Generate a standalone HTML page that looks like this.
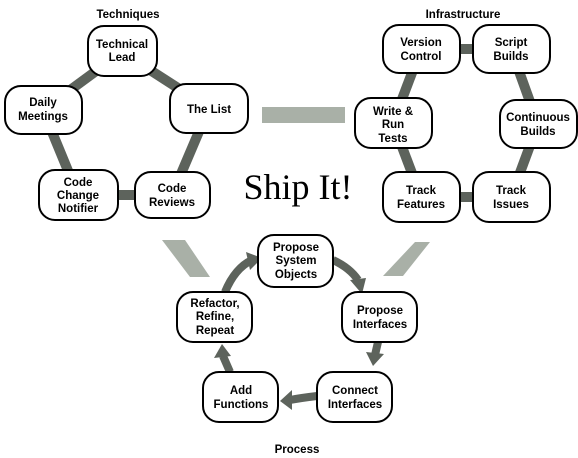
<!DOCTYPE html>
<html><head><meta charset="utf-8"><style>
html,body{margin:0;padding:0;background:#fff;}
svg{display:block;}
text{font-family:"Liberation Sans",sans-serif;font-weight:bold;font-size:11.5px;fill:#000;text-anchor:middle;}
.n{fill:#fff;stroke:#000;stroke-width:2;}
.c{stroke:#5d635c;stroke-width:10;}
.a{fill:none;stroke:#5d635c;stroke-width:8;}
</style></head><body>
<svg width="578" height="458" viewBox="0 0 578 458">
<rect x="262" y="107" width="83" height="16" fill="#a9b0a7"/>
<polygon points="162,240 185,240 210,277 190,277" fill="#a9b0a7"/>
<polygon points="415,242 430,242 403,276 383,276" fill="#a9b0a7"/>

<line class="c" x1="122" y1="52" x2="209" y2="108"/>
<line class="c" x1="209" y1="108" x2="172" y2="195"/>
<line class="c" x1="172" y1="195" x2="78" y2="195"/>
<line class="c" x1="78" y1="195" x2="43" y2="110"/>
<line class="c" x1="43" y1="110" x2="122" y2="52"/>
<line class="c" x1="421" y1="49" x2="511" y2="49"/>
<line class="c" x1="511" y1="49" x2="538" y2="124"/>
<line class="c" x1="538" y1="124" x2="511" y2="197"/>
<line class="c" x1="511" y1="197" x2="421" y2="197"/>
<line class="c" x1="421" y1="197" x2="393" y2="123"/>
<line class="c" x1="393" y1="123" x2="421" y2="49"/>

<path class="a" d="M225,292 Q235,268 252,260"/>
<polygon points="246,252 262,258 250,270" fill="#5d635c"/>
<path class="a" d="M333,260 Q350,268 358,280"/>
<polygon points="350,280 366,278 362,294" fill="#5d635c"/>
<path class="a" d="M378,342 L375,355"/>
<polygon points="366,352 384,354 373,366" fill="#5d635c"/>
<path class="a" d="M317,396 Q300,398 290,400"/>
<polygon points="292,390 280,401 292,410" fill="#5d635c"/>
<path class="a" d="M230,372 L223,356"/>
<polygon points="214,358 222,344 231,356" fill="#5d635c"/>

<text x="128" y="18" font-size="13">Techniques</text>
<text x="463" y="18" font-size="13">Infrastructure</text>
<text x="297" y="453" font-size="13">Process</text>
<text x="298" y="199" style="font-family:'Liberation Serif',serif;font-weight:normal;font-size:36px">Ship It!</text>

<rect class="n" x="88" y="26" width="69" height="50" rx="16"/>
<text x="122" y="48">Technical</text><text x="122" y="61">Lead</text>
<rect class="n" x="170" y="84" width="78" height="49" rx="16"/>
<text x="209" y="113">The List</text>
<rect class="n" x="5" y="86" width="77" height="48" rx="16"/>
<text x="43" y="106">Daily</text><text x="43" y="120">Meetings</text>
<rect class="n" x="39" y="170" width="79" height="50" rx="16"/>
<text x="78" y="186">Code</text><text x="78" y="199">Change</text><text x="78" y="212">Notifier</text>
<rect class="n" x="135" y="172" width="75" height="46" rx="16"/>
<text x="172" y="192">Code</text><text x="172" y="206">Reviews</text>

<rect class="n" x="383" y="25" width="77" height="48" rx="16"/>
<text x="421" y="46">Version</text><text x="421" y="60">Control</text>
<rect class="n" x="473" y="25" width="77" height="48" rx="16"/>
<text x="511" y="46">Script</text><text x="511" y="60">Builds</text>
<rect class="n" x="355" y="98" width="77" height="50" rx="16"/>
<text x="393" y="115">Write &amp;</text><text x="393" y="128">Run</text><text x="393" y="142">Tests</text>
<rect class="n" x="500" y="100" width="77" height="48" rx="16"/>
<text x="538" y="121">Continuous</text><text x="538" y="135">Builds</text>
<rect class="n" x="383" y="172" width="77" height="50" rx="16"/>
<text x="421" y="194">Track</text><text x="421" y="208">Features</text>
<rect class="n" x="473" y="172" width="77" height="50" rx="16"/>
<text x="511" y="194">Track</text><text x="511" y="208">Issues</text>

<rect class="n" x="258" y="235" width="75" height="52" rx="16"/>
<text x="296" y="251">Propose</text><text x="296" y="264">System</text><text x="296" y="278">Objects</text>
<rect class="n" x="342" y="292" width="75" height="50" rx="16"/>
<text x="380" y="314">Propose</text><text x="380" y="328">Interfaces</text>
<rect class="n" x="177" y="292" width="75" height="50" rx="16"/>
<text x="215" y="307">Refactor,</text><text x="215" y="320">Refine,</text><text x="215" y="334">Repeat</text>
<rect class="n" x="203" y="372" width="75" height="50" rx="16"/>
<text x="241" y="394">Add</text><text x="241" y="408">Functions</text>
<rect class="n" x="317" y="372" width="75" height="50" rx="16"/>
<text x="355" y="394">Connect</text><text x="355" y="408">Interfaces</text>
</svg>
</body></html>
